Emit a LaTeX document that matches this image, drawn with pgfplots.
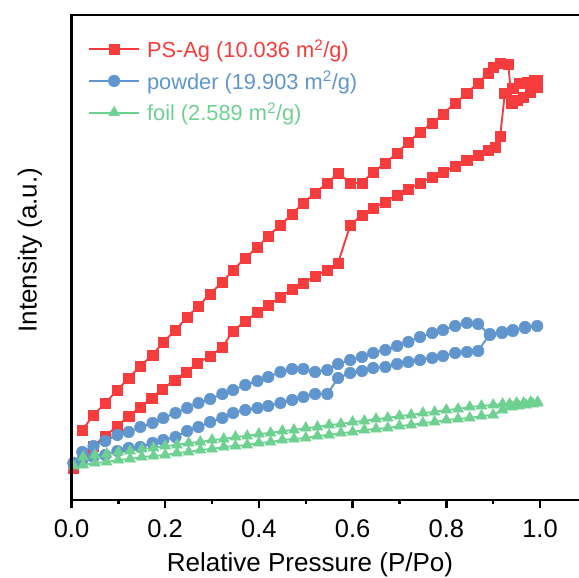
\documentclass[border=0pt]{standalone}
\usepackage{fontspec}
\setmainfont{Liberation Sans}
\usepackage{pgfplots}
\pgfplotsset{compat=1.18}
\definecolor{cred}{RGB}{246,60,60}
\definecolor{cblue}{RGB}{96,150,205}
\definecolor{cgreen}{RGB}{110,208,145}
\begin{document}
\begin{tikzpicture}
\begin{axis}[
  at={(0,0)}, anchor=south west,
  scale only axis, width=507.5bp, height=485bp,
  xmin=0, xmax=1.0832, ymin=14, ymax=499,
  axis x line*=bottom, axis y line*=left,
  axis line style={line width=2.5bp, -},
  ytick=\empty,
  xtick={0,0.2,0.4,0.6,0.8,1.0},
  minor xtick={0.1,0.3,0.5,0.7,0.9},
  tick align=outside,
  major tick length=8bp, minor tick length=4bp,
  tick style={line width=2.5bp, black},
  /pgf/number format/assume math mode=true,
  tick label style={font=\fontsize{25.5bp}{30bp}\selectfont},
  xticklabel style={yshift=-8bp, /pgf/number format/.cd, fixed, fixed zerofill, precision=1},
  xlabel={Relative Pressure (P/Po)},
  ylabel={Intensity (a.u.)},
  label style={font=\fontsize{26bp}{31bp}\selectfont},
  xlabel style={at={(axis description cs:0.47,-0.148)}, anchor=base},
  ylabel style={at={(axis description cs:-0.082,0.515)}, anchor=center},
  legend style={draw=none, fill=none, at={(axis description cs:0.0325,0.954)}, anchor=north west,
    font=\fontsize{21.8bp}{26bp}\selectfont, row sep=8bp, inner sep=0pt,
    /tikz/every odd column/.append style={column sep=5bp}},
  legend cell align=left,
  legend image code/.code={\draw[mark repeat=2,mark phase=2,#1] plot coordinates {(0bp,0bp) (25bp,0bp) (50bp,0bp)};},
]
\addplot[color=cred, line width=1.9bp, mark=square*, mark size=5.2bp, mark options={solid, fill=cred, draw=cred, line width=0.5bp}] coordinates {
(0.004,46) (0.026,59) (0.047,68) (0.072,78) (0.098,88) (0.122,98) (0.147,107) (0.171,116) (0.194,125) (0.220,134) (0.245,142) (0.269,151) (0.296,158) (0.322,167) (0.345,183) (0.371,193) (0.397,202) (0.420,209) (0.446,217) (0.471,225) (0.495,231) (0.520,238) (0.546,244) (0.569,251) (0.595,289) (0.620,299) (0.644,306) (0.670,312) (0.695,319) (0.719,325) (0.744,331) (0.770,337) (0.793,342) (0.819,348) (0.844,354) (0.868,359) (0.889,364) (0.904,367) (0.915,378) (0.925,421) (0.942,426) (0.957,431) (0.974,432) (0.989,434) (0.994,434)
(0.994,427) (0.979,422) (0.964,417) (0.951,414) (0.940,411) (0.932,450) (0.915,451) (0.900,447) (0.889,441) (0.868,431) (0.844,421) (0.819,411) (0.793,400) (0.770,391) (0.744,382) (0.719,372) (0.695,361) (0.670,351) (0.644,342) (0.620,331) (0.595,331) (0.569,341) (0.546,331) (0.520,321) (0.495,311) (0.471,300) (0.446,289) (0.420,278) (0.397,267) (0.371,256) (0.345,244) (0.322,232) (0.296,220) (0.271,208) (0.247,197) (0.222,184) (0.196,172) (0.173,159) (0.147,148) (0.122,136) (0.098,124) (0.072,111) (0.047,99) (0.023,84)
};
\addlegendentry{\textcolor{cred}{PS-Ag (10.036 m\textsuperscript{2}/g)}}
\addplot[color=cblue, line width=1.9bp, mark=*, mark size=5.8bp, mark options={solid, fill=cblue, draw=cblue, line width=0.5bp}] coordinates {
(0.004,51) (0.023,54) (0.047,57) (0.072,59) (0.098,63) (0.122,66) (0.147,67) (0.173,71) (0.196,74) (0.222,77) (0.247,83) (0.271,87) (0.296,92) (0.322,96) (0.345,101) (0.371,104) (0.397,106) (0.420,108) (0.446,111) (0.471,114) (0.495,117) (0.520,120) (0.546,120) (0.569,136) (0.595,141) (0.620,143) (0.644,146) (0.670,147) (0.695,150) (0.719,152) (0.744,154) (0.770,156) (0.793,158) (0.819,161) (0.844,162) (0.868,163) (0.893,180) (0.919,182) (0.942,184) (0.968,187) (0.994,188)
(0.968,186) (0.942,183) (0.919,181) (0.893,179) (0.868,190) (0.844,191) (0.819,188) (0.793,184) (0.770,181) (0.744,177) (0.719,172) (0.695,168) (0.670,164) (0.644,161) (0.620,157) (0.595,154) (0.569,150) (0.546,144) (0.520,142) (0.495,145) (0.471,145) (0.446,142) (0.420,137) (0.397,133) (0.371,129) (0.345,124) (0.322,120) (0.296,115) (0.271,111) (0.247,106) (0.222,101) (0.196,96) (0.173,91) (0.147,87) (0.122,82) (0.098,79) (0.072,73) (0.047,68) (0.023,62)
};
\addlegendentry{\textcolor{cblue}{powder (19.903 m\textsuperscript{2}/g)}}
\addplot[color=cgreen, line width=1.9bp, mark=triangle*, mark size=6.3bp, mark options={solid, fill=cgreen, draw=cgreen, line width=0.5bp}] coordinates {
(0.005,48) (0.025,49) (0.05,51) (0.075,52) (0.1,54) (0.125,55) (0.15,57) (0.175,58) (0.2,59) (0.225,61) (0.25,62) (0.275,64) (0.3,65) (0.325,67) (0.35,68) (0.375,69) (0.4,71) (0.425,72) (0.45,74) (0.475,75) (0.5,76) (0.525,78) (0.55,79) (0.575,81) (0.6,82) (0.625,84) (0.65,85) (0.675,86) (0.7,88) (0.725,89) (0.75,91) (0.775,92) (0.8,94) (0.825,95) (0.85,96) (0.875,98) (0.9,99) (0.92,104) (0.94,107) (0.955,108) (0.97,109) (0.985,110) (0.995,111)
(0.995,112) (0.98,112) (0.965,111) (0.95,111) (0.935,110) (0.92,110) (0.9,109) (0.875,108) (0.85,107) (0.825,105) (0.8,104) (0.775,102) (0.75,101) (0.725,99) (0.7,98) (0.675,96) (0.65,95) (0.625,93) (0.6,92) (0.575,90) (0.55,89) (0.525,87) (0.5,86) (0.475,84) (0.45,83) (0.425,81) (0.4,80) (0.375,78) (0.35,77) (0.325,75) (0.3,74) (0.275,72) (0.25,71) (0.225,69) (0.2,68) (0.175,66) (0.15,65) (0.125,63) (0.1,62) (0.075,60) (0.05,59) (0.025,57)
};
\addlegendentry{\textcolor{cgreen}{foil (2.589 m\textsuperscript{2}/g)}}
\end{axis}
\draw[line width=2.5bp] (0,0) -- (0,485bp) -- (520bp,485bp);
\pgfresetboundingbox
\useasboundingbox (-71.5bp,-78bp) rectangle (507.5bp,500bp);
\end{tikzpicture}
\end{document}
